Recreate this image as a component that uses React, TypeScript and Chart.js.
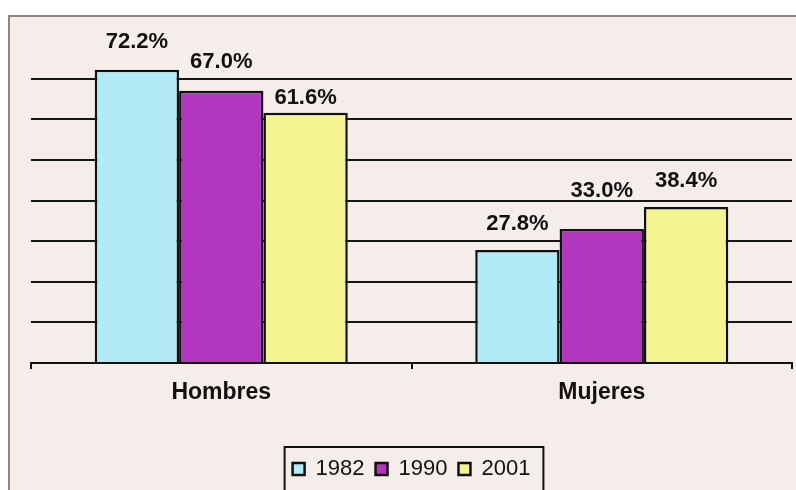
import React, { useEffect, useRef } from "react";
import { Chart, registerables } from "chart.js";

Chart.register(...registerables);

const categories = ["Hombres", "Mujeres"];
const seriesLabels = ["1982", "1990", "2001"];
const values1982 = [72.2, 27.8];
const values1990 = [67.0, 33.0];
const values2001 = [61.6, 38.4];
const yTickValues = [0, 10, 20, 30, 40, 50, 60, 70, 80];

const FONT = "'Liberation Sans', Arial, Helvetica, sans-serif";
const COLORS = ["#b2ebf7", "#b236be", "#f4f590"];
// vertical gap (px) between bar top and its value label, per dataset / category
const LABEL_GAPS = [
  [22, 20],
  [23, 32],
  [9, 20],
];

const backgroundPlugin = {
  id: "bgFrame",
  beforeDraw(chart: any) {
    const ctx = chart.ctx;
    const w = chart.width;
    const h = chart.height;
    ctx.save();
    ctx.fillStyle = "#ffffff";
    ctx.fillRect(0, 0, w, h);
    ctx.fillStyle = "#f4ede9";
    ctx.fillRect(8, 15, w - 8, h - 15);
    ctx.strokeStyle = "#8e8682";
    ctx.lineWidth = 2;
    ctx.beginPath();
    ctx.moveTo(9, h);
    ctx.lineTo(9, 16);
    ctx.lineTo(w, 16);
    ctx.stroke();
    ctx.restore();
  },
};

const valueLabelPlugin = {
  id: "valueLabels",
  afterDatasetsDraw(chart: any) {
    const ctx = chart.ctx;
    ctx.save();
    ctx.font = `bold 22px ${FONT}`;
    ctx.fillStyle = "#111111";
    ctx.textAlign = "center";
    ctx.textBaseline = "alphabetic";
    chart.data.datasets.forEach((ds: any, di: number) => {
      const meta = chart.getDatasetMeta(di);
      meta.data.forEach((bar: any, i: number) => {
        const v = ds.data[i] as number;
        const gap = LABEL_GAPS[di][i];
        ctx.fillText(v.toFixed(1) + "%", bar.x, bar.y - gap);
      });
    });
    ctx.restore();
  },
};

const legendBoxPlugin = {
  id: "legendBox",
  afterDraw(chart: any) {
    const lg = chart.legend;
    if (!lg || !lg.legendHitBoxes || !lg.legendHitBoxes.length) return;
    const hb = lg.legendHitBoxes;
    const first = hb[0];
    const last = hb[hb.length - 1];
    const left = first.left - 8;
    const right = last.left + last.width + 13;
    const top = 447;
    const ctx = chart.ctx;
    ctx.save();
    ctx.strokeStyle = "#111111";
    ctx.lineWidth = 2;
    ctx.strokeRect(left, top, right - left, chart.height - top + 20);
    ctx.restore();
  },
};

export default function App() {
  const canvasRef = useRef<HTMLCanvasElement | null>(null);

  useEffect(() => {
    const canvas = canvasRef.current;
    if (!canvas) return;
    const seriesValues = [values1982, values1990, values2001];
    const chart = new Chart(canvas, {
      type: "bar",
      data: {
        labels: categories,
        datasets: seriesLabels.map((label, i) => ({
          label,
          data: seriesValues[i],
          backgroundColor: COLORS[i],
          borderColor: "#111111",
          borderWidth: 2.5,
          categoryPercentage: 0.665,
          barPercentage: 1,
        })),
      },
      options: {
        responsive: false,
        animation: false,
        devicePixelRatio: 1,
        layout: { padding: { left: 31, right: 4, top: 38, bottom: 0 } },
        plugins: {
          tooltip: { enabled: false },
          legend: {
            display: true,
            position: "bottom",
            align: "center",
            labels: {
              color: "#111111",
              font: { family: FONT, size: 22 },
              boxWidth: 12,
              boxHeight: 12,
              padding: 11,
            },
          },
        },
        scales: {
          x: {
            grid: {
              offset: true,
              drawOnChartArea: false,
              drawTicks: true,
              tickLength: 6,
              color: "#111111",
              lineWidth: 2,
            },
            border: { display: true, color: "#111111", width: 2 },
            ticks: {
              color: "#111111",
              font: { family: FONT, size: 23, weight: "bold" },
              padding: 10,
            },
            afterFit: (scale: any) => {
              scale.height = 84;
            },
          },
          y: {
            min: 0,
            max: 80,
            afterBuildTicks: (scale: any) => {
              scale.ticks = yTickValues.map((v) => ({ value: v }));
            },
            grid: {
              drawTicks: false,
              color: (c: any) =>
                c.tick && (c.tick.value === 0 || c.tick.value === 80)
                  ? "rgba(0,0,0,0)"
                  : "#161616",
              lineWidth: 2,
            },
            border: { display: false },
            ticks: { display: false },
            afterFit: (scale: any) => {
              scale.width = 0;
            },
          },
        },
      },
      plugins: [backgroundPlugin, valueLabelPlugin, legendBoxPlugin],
    });
    return () => chart.destroy();
  }, []);

  return (
    <canvas
      ref={canvasRef}
      width={796}
      height={490}
      style={{ position: "fixed", left: 0, top: 0, width: 796, height: 490 }}
    />
  );
}
